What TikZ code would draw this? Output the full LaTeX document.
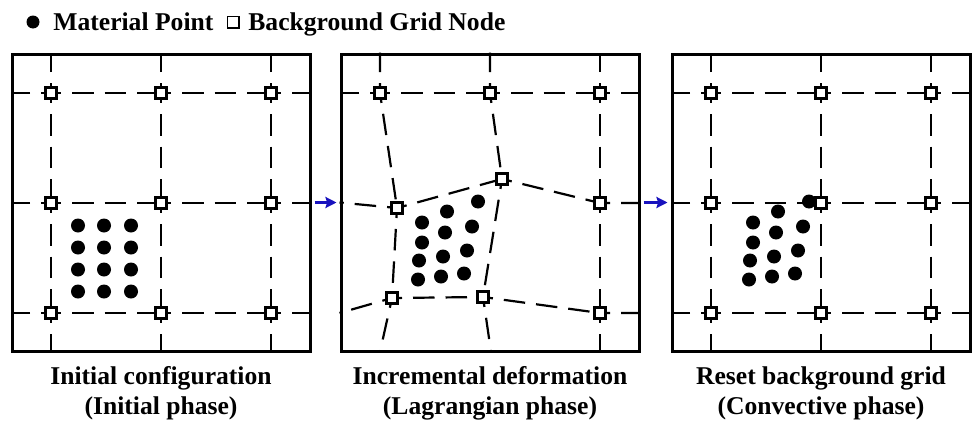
\documentclass[tikz,border=0pt]{standalone}
\usepackage{fontspec}
\setmainfont{Liberation Serif}
\usetikzlibrary{positioning,arrows.meta,backgrounds,calc}
\definecolor{arrowc}{RGB}{24,18,190}
\tikzset{
  panel/.style={draw=black, line width=1.5pt, minimum width=149pt, minimum height=148.5pt, inner sep=0pt},
  gnode/.style={draw=black, fill=white, line width=1.3pt, minimum size=5.6pt, inner sep=0pt},
  gline/.style={line width=1.1pt, dash pattern=on 10.75pt off 5.5pt, dash phase=5.75pt},
  mpt/.style={fill=black},
  mdot/.style={circle, fill=black, minimum size=6.5pt, inner sep=0pt},
  move/.style={-{Stealth[length=5.5pt,width=5.5pt,inset=0.8pt]}, line width=1.5pt, arrowc, shorten <=1.5pt, shorten >=1.5pt},
  caption/.style={font=\fontsize{12.8pt}{15pt}\selectfont\bfseries, align=center, inner sep=0pt},
  legend/.style={font=\fontsize{12.8pt}{15pt}\selectfont\bfseries, inner sep=0pt}
}

\begin{document}
\begin{tikzpicture}[x=0.5pt, y=-0.5pt]
  \useasboundingbox (0,0) rectangle (973,423);

  % legend
  \node[mdot] (ldot) at (33,22) {};
  \node[legend, anchor=base west] (lmp) at (53,30) {Material Point};
  \node[gnode, line width=0.75pt, minimum size=5.75pt] (lsq) at (233,22) {};
  \node[legend, anchor=base west] (lbg) at (248,30) {Background Grid Node};

  % panels
  \node[panel] (pa) at (161,202.5) {};
  \node[panel] (pb) at (490,202.5) {};
  \node[panel] (pc) at (821,202.5) {};

  % material points
  \foreach \dx in {-83,-57,-30}
    \foreach \dy in {23,45,67,89}
      \fill[mpt] ($(pa)+(\dx,\dy)$) circle (3.5pt);
  \foreach \p in {pb,pc}
    \foreach \dx/\dy in {-12/-1,-43/9,-68/20,-18/24,-45/30,-68/40,-23/48,-47/54,-71/58,-26/71,-49/74,-72/77}
      \fill[mpt] ($(\p)+(\dx,\dy)$) circle (3.5pt);

  % grid nodes, initial and reset grid
  \foreach \r/\yy in {1/93,2/203,3/313} {
    \foreach \c/\xx in {1/51,2/161,3/271}
      \node[gnode] (a\r\c) at (\xx,\yy) {};
    \foreach \c/\xx in {1/711,2/821,3/931}
      \node[gnode] (c\r\c) at (\xx,\yy) {};
  }

  % grid nodes, deformed grid
  \node[gnode] (b11) at (380,93) {};
  \node[gnode] (b12) at (490,93) {};
  \node[gnode] (b13) at (600,93) {};
  \node[gnode] (b21) at (397,208) {};
  \node[gnode] (b22) at (502,179) {};
  \node[gnode] (b23) at (600,203) {};
  \node[gnode] (b31) at (392,298) {};
  \node[gnode] (b32) at (483,297) {};
  \node[gnode] (b33) at (600,313) {};
  \coordinate (b41) at (380,351.75);
  \coordinate (b42) at (491,351.75);

  \begin{scope}[on background layer]
    \foreach \g/\p in {a/pa,c/pc} {
      \foreach \r in {1,2,3}
        \draw[gline] (\g\r1.center) -- (\g\r1 -| \p.west) (\g\r1.center) -- (\g\r2.center)
          (\g\r2.center) -- (\g\r3.center) (\g\r3.center) -- (\g\r3 -| \p.east);
      \foreach \c in {1,2,3}
        \draw[gline] (\g1\c.center) -- (\g1\c |- \p.north) (\g1\c.center) -- (\g2\c.center)
          (\g2\c.center) -- (\g3\c.center) (\g3\c.center) -- (\g3\c |- \p.south);
    }
    \draw[gline] (b11.center) -- (b11 -| pb.west) (b11.center) -- (b12.center)
      (b12.center) -- (b13.center) (b13.center) -- (b13 -| pb.east);
    \draw[gline] (b21.center) -- (pb.west) (b21.center) -- (b22.center)
      (b22.center) -- (b23.center) (b23.center) -- (b23 -| pb.east);
    \draw[gline] (b31.center) -- (b33 -| pb.west) (b31.center) -- (b32.center)
      (b32.center) -- (b33.center) (b33.center) -- (b33 -| pb.east);
    \draw[gline] (b11.center) -- (b11 |- pb.north) (b11.center) -- (b21.center)
      (b21.center) -- (b31.center) (b31.center) -- (b41);
    \draw[gline] (b12.center) -- (b12 |- pb.north) (b12.center) -- (b22.center)
      (b22.center) -- (b32.center) (b32.center) -- (b42);
    \draw[gline] (b13.center) -- (b13 |- pb.north) (b13.center) -- (b23.center)
      (b23.center) -- (b33.center) (b33.center) -- (b33 |- pb.south);
  \end{scope}

  \draw[move] (pa.east) -- (pb.west);
  \draw[move] (pb.east) -- (pc.west);

  \node[caption, below=7pt of pa] (capa) {Initial configuration\\(Initial phase)};
  \node[caption, below=7pt of pb] (capb) {Incremental deformation\\(Lagrangian phase)};
  \node[caption, below=7pt of pc] (capc) {Reset background grid\\(Convective phase)};
\end{tikzpicture}
\end{document}
